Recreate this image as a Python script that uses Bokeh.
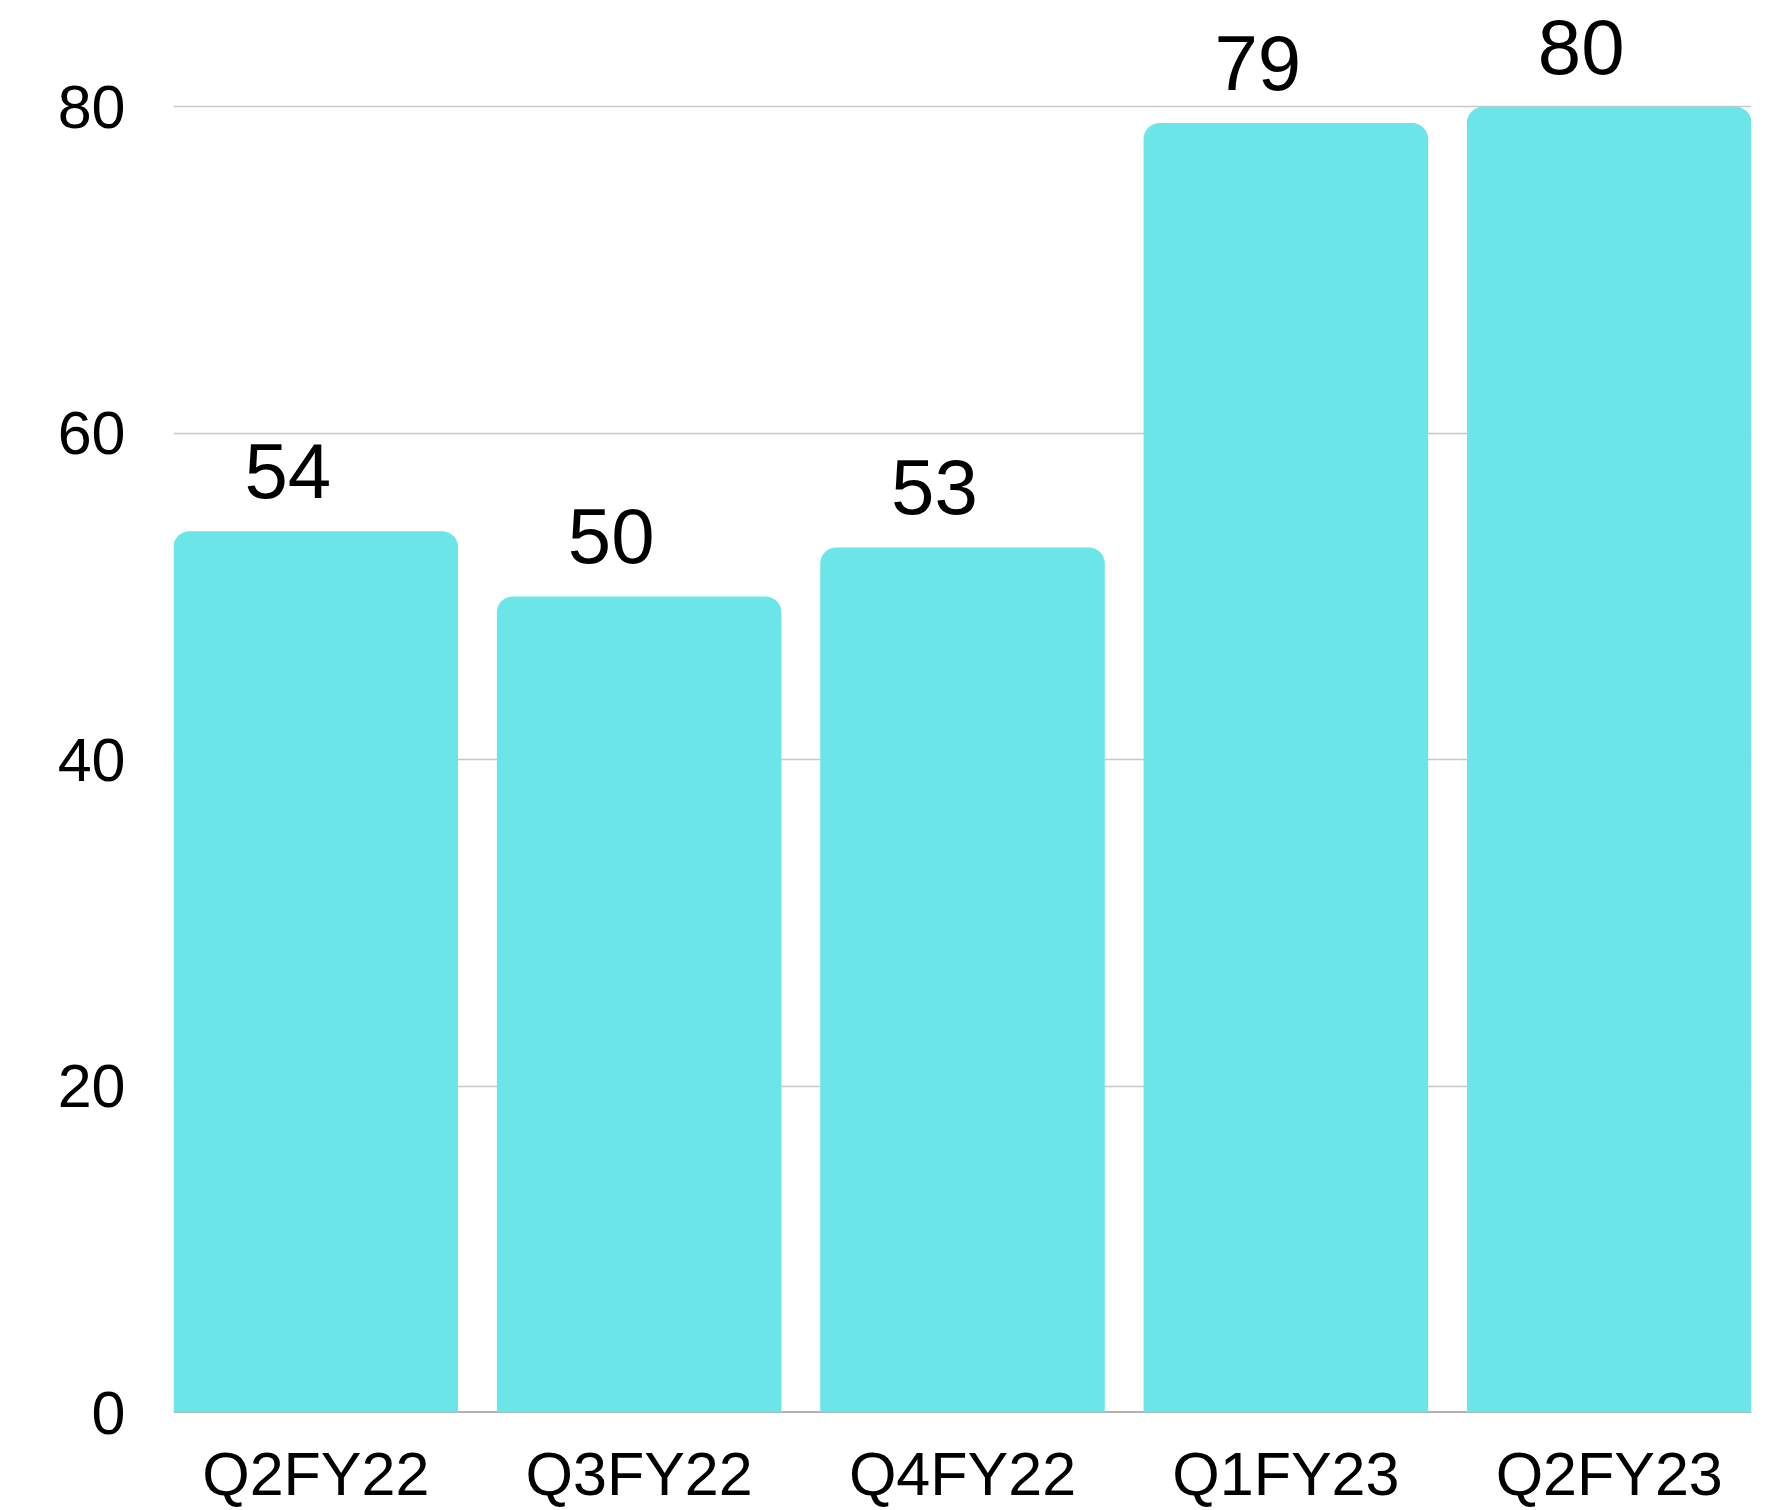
from bokeh.plotting import figure
from bokeh.models import ColumnDataSource, Range1d, FixedTicker, Span
from bokeh.embed import file_html
from bokeh.resources import INLINE
from bokeh.core.properties import value

categories = ["Q2FY22", "Q3FY22", "Q4FY22", "Q1FY23", "Q2FY23"]
values = [54, 50, 53, 79, 80]
y_ticks = [0, 20, 40, 60, 80]

xs = list(range(len(categories)))
source = ColumnDataSource(dict(x=xs, value=values, label=[str(v) for v in values]))

FONT = "Liberation Sans"

p = figure(width=1769, height=1510, output_backend="svg", toolbar_location=None,
           x_range=Range1d(-0.44, len(categories) - 1 + 0.44),
           y_range=Range1d(0, 85.9),
           min_border_left=173, min_border_right=18, min_border_top=10, min_border_bottom=98)
p.outline_line_color = None
p.background_fill_color = "white"
p.border_fill_color = "white"

p.vbar(x="x", top="value", bottom=0, width=0.88, source=source,
       fill_color="#6CE5E8", line_color=None, border_radius=(16, 16, 0, 0))

p.add_layout(Span(location=0, dimension="width", line_color="#666666", line_width=2, level="underlay"))

p.text(x="x", y="value", text="label", source=source, x_offset=-28, y_offset=-60,
       text_align="center", text_baseline="alphabetic",
       text_font=value(FONT), text_font_size="78px", text_color="black")

p.xgrid.grid_line_color = None
p.ygrid.grid_line_color = "#c8c8c8"
p.ygrid.grid_line_width = 1.5
p.ygrid.ticker = FixedTicker(ticks=y_ticks)

p.yaxis.ticker = FixedTicker(ticks=y_ticks)
p.xaxis.ticker = FixedTicker(ticks=xs)
p.xaxis.major_label_overrides = {i: c for i, c in zip(xs, categories)}

for ax in (p.xaxis[0], p.yaxis[0]):
    ax.axis_line_color = None
    ax.major_tick_line_color = None
    ax.minor_tick_line_color = None
    ax.major_tick_out = 0
    ax.major_tick_in = 0
    ax.minor_tick_out = 0
    ax.major_label_text_font = FONT
    ax.major_label_text_font_size = "61px"
    ax.major_label_text_color = "black"

p.yaxis.major_label_standoff = 48
p.xaxis.major_label_standoff = 27

open("out.html", "w").write(file_html(p, INLINE))
